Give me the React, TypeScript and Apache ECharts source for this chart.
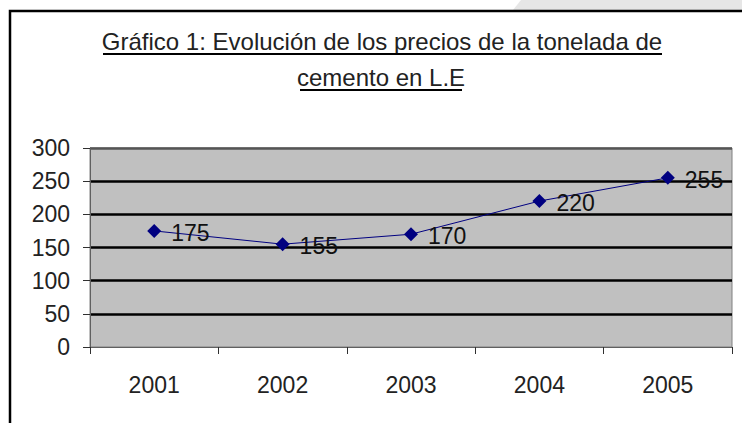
import React, { useEffect, useRef } from "react";
import * as echarts from "echarts";

const years = ["2001", "2002", "2003", "2004", "2005"];
const prices = [175, 155, 170, 220, 255];
const titleLines = ["Gráfico 1: Evolución de los precios de la tonelada de", "cemento en L.E"];

const FONT = "'Liberation Sans', Arial, sans-serif";

export default function App() {
  const ref = useRef<HTMLDivElement>(null);
  useEffect(() => {
    if (!ref.current) return;
    const chart = echarts.init(ref.current, undefined, { renderer: "svg" });
    chart.setOption({
      animation: false,
      backgroundColor: "#ffffff",
      textStyle: { fontFamily: FONT },
      grid: {
        left: 90,
        top: 148,
        right: 10,
        bottom: 76,
        show: true,
        backgroundColor: "#C0C0C0",
        borderColor: "#808080",
        borderWidth: 1,
      },
      xAxis: {
        type: "category",
        data: years,
        boundaryGap: true,
        axisLine: { show: true, lineStyle: { color: "#606060", width: 1 } },
        axisTick: { show: true, length: 7, lineStyle: { color: "#303030" } },
        axisLabel: { fontSize: 23, color: "#222", margin: 26, fontFamily: FONT },
        splitLine: { show: false },
      },
      yAxis: {
        type: "value",
        min: 0,
        max: 300,
        interval: 50,
        axisLine: { show: true, lineStyle: { color: "#606060", width: 1 } },
        axisTick: { show: true, length: 7, lineStyle: { color: "#303030" } },
        axisLabel: { fontSize: 23, color: "#222", margin: 20, fontFamily: FONT },
        splitLine: {
          show: true,
          lineStyle: {
            color: ["transparent", "#000", "#000", "#000", "#000", "#000", "#555"],
            width: 2.5,
          },
        },
      },
      series: [
        {
          type: "line",
          data: prices,
          symbol: "diamond",
          symbolSize: 14,
          itemStyle: { color: "#000080" },
          lineStyle: { color: "#000080", width: 1 },
          label: {
            show: true,
            position: "right",
            distance: 10,
            fontSize: 23,
            color: "#111",
            fontFamily: FONT,
            offset: [0, 2],
          },
        },
      ],
      graphic: [
        {
          type: "polygon",
          shape: { points: [[521, 0], [742, 0], [742, 10], [513, 10]] },
          style: { fill: "#E6E6E6" },
          silent: true,
        },
        {
          type: "rect",
          shape: { x: 10, y: 11, width: 900, height: 600 },
          style: { fill: "none", stroke: "#000", lineWidth: 2.5 },
          silent: true,
        },
        {
          type: "text",
          x: 382,
          y: 41,
          style: {
            text: titleLines[0],
            fontSize: 24,
            fontFamily: FONT,
            fill: "#222",
            align: "center",
            verticalAlign: "middle",
          },
        },
        {
          type: "line",
          shape: { x1: 103, y1: 54, x2: 662, y2: 54 },
          style: { stroke: "#000", lineWidth: 2 },
        },
        {
          type: "text",
          x: 381,
          y: 77,
          style: {
            text: titleLines[1],
            fontSize: 24,
            fontFamily: FONT,
            fill: "#222",
            align: "center",
            verticalAlign: "middle",
          },
        },
        {
          type: "line",
          shape: { x1: 300, y1: 90, x2: 462, y2: 90 },
          style: { stroke: "#000", lineWidth: 2 },
        },
      ],
    });
    return () => chart.dispose();
  }, []);
  return (
    <div
      ref={ref}
      style={{ position: "absolute", left: 0, top: 0, width: 742, height: 423 }}
    />
  );
}
